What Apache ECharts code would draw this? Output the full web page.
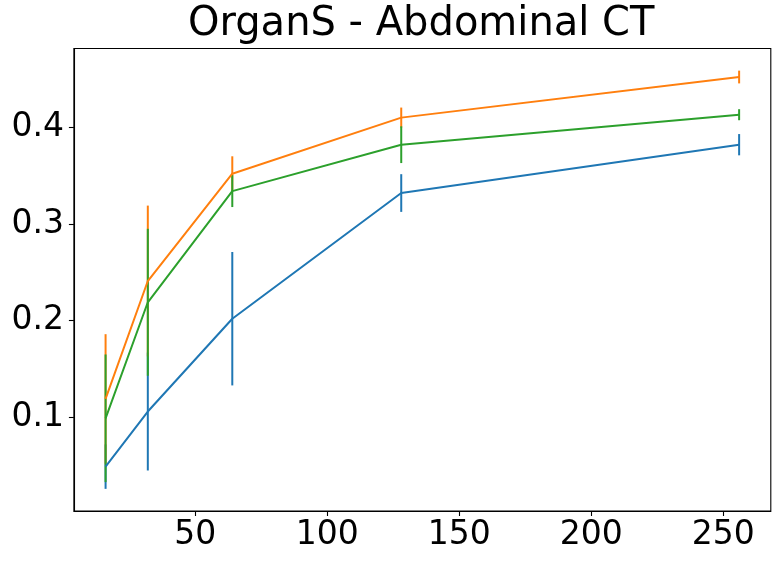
<!DOCTYPE html>
<html>
<head>
<meta charset="utf-8">
<script src="https://cdn.jsdelivr.net/npm/echarts@6/dist/echarts.min.js"></script>
<style>
html,body{margin:0;padding:0;background:#fff;}
#chart{width:780px;height:564px;}
</style>
</head>
<body>
<div id="chart"></div>
<script>
const xValues = [16, 32, 64, 128, 256];
const xTicks = [50, 100, 150, 200, 250];
const yTicks = [0.1, 0.2, 0.3, 0.4];

const blueMean = [0.049, 0.106, 0.202, 0.332, 0.382];
const blueErr = [0.023, 0.061, 0.069, 0.0195, 0.011];
const orangeMean = [0.119, 0.241, 0.352, 0.410, 0.452];
const orangeErr = [0.067, 0.078, 0.018, 0.0104, 0.0066];
const greenMean = [0.099, 0.219, 0.334, 0.382, 0.413];
const greenErr = [0.066, 0.076, 0.0165, 0.019, 0.0057];

const FONT = 'DejaVu Sans';
const chart = echarts.init(document.getElementById('chart'), null, {renderer: 'canvas'});

function lineSeries(name, mean, color) {
  return {
    name: name, type: 'line', symbol: 'none', animation: false,
    data: xValues.map((x, i) => [x, mean[i]]),
    lineStyle: {color: color, width: 2}, z: 2
  };
}
function errSeries(name, mean, err, color) {
  return {
    name: name + ' err', type: 'custom', animation: false,
    encode: {x: 0, y: [1, 2]},
    data: xValues.map((x, i) => [x, mean[i] - err[i], mean[i] + err[i]]),
    renderItem: function (params, api) {
      const p1 = api.coord([api.value(0), api.value(1)]);
      const p2 = api.coord([api.value(0), api.value(2)]);
      return {type: 'line', shape: {x1: p1[0], y1: p1[1], x2: p2[0], y2: p2[1]},
              style: {stroke: color, lineWidth: 2}};
    }, z: 2
  };
}

const axisCommon = {
  axisLine: {show: true, lineStyle: {color: '#000', width: 1.1}},
  axisTick: {show: true, length: 5, lineStyle: {color: '#000', width: 1.1}},
  splitLine: {show: false},
};

chart.setOption({
  backgroundColor: '#fff',
  animation: false,
  title: {
    text: 'OrganS - Abdominal CT', left: 188, top: 5,
    padding: 0,
    textStyle: {fontFamily: FONT, fontSize: 40, fontWeight: 'normal', color: '#000'}
  },
  grid: {left: 73.9, right: 9.2, top: 48.5, bottom: 53, show: true, borderColor: '#000', borderWidth: 1.1, containLabel: false},
  xAxis: Object.assign({}, axisCommon, {
    type: 'value', min: 4, max: 268,
    axisTick: Object.assign({}, axisCommon.axisTick, {customValues: xTicks}),
    axisLabel: {customValues: xTicks, fontFamily: FONT, fontSize: 33, color: '#000', margin: 8}
  }),
  yAxis: Object.assign({}, axisCommon, {
    type: 'value', min: 0.0031, max: 0.4815,
    axisTick: Object.assign({}, axisCommon.axisTick, {customValues: yTicks}),
    axisLabel: {customValues: yTicks, fontFamily: FONT, fontSize: 33, color: '#000', margin: 10,
                formatter: v => v.toFixed(1)}
  }),
  series: [
    lineSeries('blue', blueMean, '#1f77b4'),
    errSeries('blue', blueMean, blueErr, '#1f77b4'),
    lineSeries('orange', orangeMean, '#ff7f0e'),
    errSeries('orange', orangeMean, orangeErr, '#ff7f0e'),
    lineSeries('green', greenMean, '#2ca02c'),
    errSeries('green', greenMean, greenErr, '#2ca02c')
  ]
});
</script>
</body>
</html>
